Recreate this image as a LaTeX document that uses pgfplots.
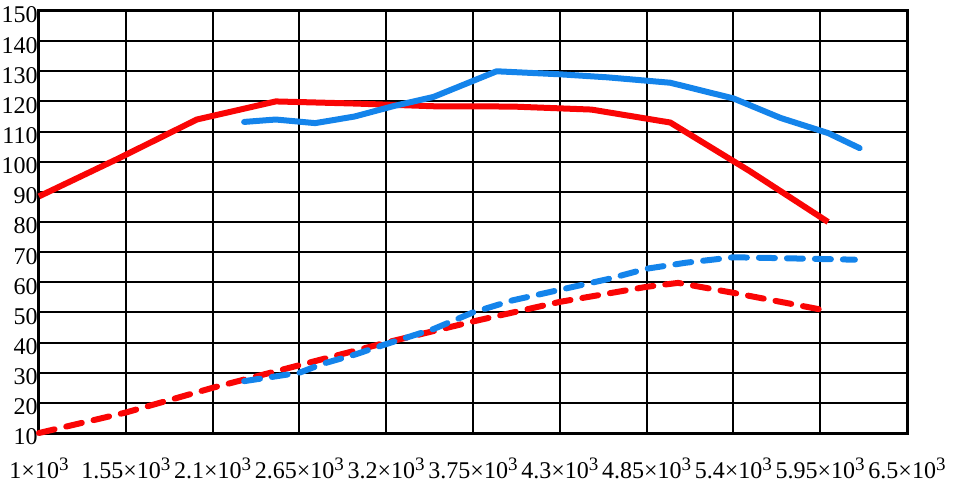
\documentclass[border=0pt]{standalone}
\usepackage{pgfplots}
\pgfplotsset{compat=1.18}
\usepackage{fontspec}
\setmainfont{Liberation Serif}
\definecolor{myred}{RGB}{250,5,5}
\definecolor{myblue}{RGB}{20,132,235}
\newcommand{\ex}{{\texttimes}10\raisebox{0.75ex}{\fontsize{9.5}{10}\selectfont 3}}
\begin{document}
\begin{tikzpicture}
\begin{axis}[
  scale only axis,
  width=434pt, height=211pt,
  xmin=1000, xmax=6500, ymin=10, ymax=150,
  xtick={1000,1550,...,6500},
  ytick={10,20,...,150},
  xticklabels={1\ex,1.55\ex,2.1\ex,2.65\ex,3.2\ex,3.75\ex,4.3\ex,4.85\ex,5.4\ex,5.95\ex,6.5\ex},
  yticklabels={10,20,30,40,50,60,70,80,90,100,110,120,130,140,150},
  tick label style={font=\fontsize{12}{14}\selectfont},
  xticklabel style={yshift=-9pt},
  yticklabel style={inner xsep=0.5pt, yshift=-2pt},
  major tick length=0pt,
  grid=major,
  major grid style={black, line width=1pt},
  axis line style={black, line width=1.5pt},
  clip=false,
]
\addplot[myred, line width=3pt, line join=round] coordinates {
(1000,88.5)(1500,101)(2000,114)(2500,120)(3000,119.3)(3500,118.4)(4000,118.3)(4500,117.3)(5000,113)(5500,97)(6000,80)};
\addplot[myblue, line width=3pt, line join=round, line cap=round] coordinates {
(2300,113.2)(2500,114)(2750,112.8)(3000,115)(3250,118.5)(3500,121.5)(3900,130)(4300,129)(4600,128)(5000,126.2)(5400,121)(5700,114.5)(6000,109.5)(6200,104.5)};
\addplot[myred, line width=3pt, line cap=round, dash pattern=on 8pt off 6pt] coordinates {
(1000,10)(1550,16.8)(2100,25)(2650,32.5)(3200,40)(3750,47)(4300,53.5)(4850,58.5)(5050,59.8)(5400,56.5)(5950,51)};
\addplot[myblue, line width=3pt, line cap=round, dash pattern=on 8pt off 6pt] coordinates {
(2300,27.2)(2650,30)(2800,33)(3000,36)(3200,39.5)(3500,44.5)(3750,50)(4000,54)(4300,57.5)(4600,61)(4850,64.5)(5100,66.5)(5400,68.3)(5700,68)(6170,67.5)};
\end{axis}
\path (current axis.south west) ++(-19.5pt,-30pt) (current axis.north east) ++(24pt,5.5pt);
\end{tikzpicture}
\end{document}
